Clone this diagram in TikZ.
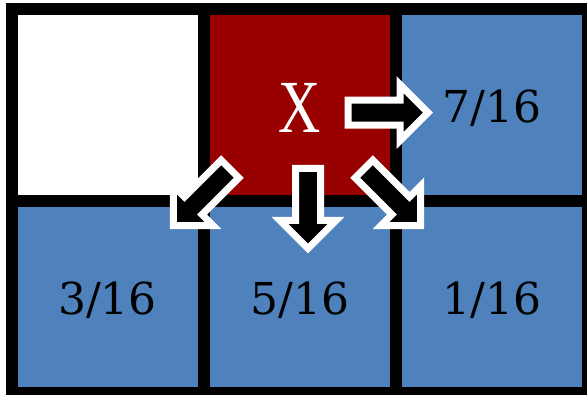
\documentclass[tikz,border=0pt]{standalone}
\usepackage{graphicx}
\usepackage{fontspec}
\newfontfamily\numfont{DejaVu Serif}
\newfontfamily\xfont{Liberation Serif}
\definecolor{cellred}{HTML}{990000}
\definecolor{cellblue}{HTML}{4F81BD}
\tikzset{
  cell/.style={draw=black, line width=12pt, minimum width=192pt, minimum height=192pt, inner sep=0pt, outer sep=0pt, shape=rectangle},
  numlbl/.style={anchor=base, inner sep=0pt, text=black, font=\numfont\fontsize{44}{50}\selectfont},
  xlbl/.style={anchor=base, inner sep=0pt, text=white, font=\xfont\fontsize{75}{80}\selectfont},
  barr/.pic={\draw[fill=black, draw=white, line width=7pt, line join=miter]
      (0,12.5) -- (52,12.5) -- (52,28) -- (80,0) -- (52,-28) -- (52,-12.5) -- (0,-12.5) -- cycle;}
}
\begin{document}
\begin{tikzpicture}[x=1pt,y=1pt]
\useasboundingbox (0,0) rectangle (587,395);
% cells
\node[cell, fill=white]    (c11) at (108,290) {};
\node[cell, fill=cellred]  (c12) at (300,290) {};
\node[cell, fill=cellblue] (c13) at (492,290) {};
\node[cell, fill=cellblue] (c21) at (108,98) {};
\node[cell, fill=cellblue] (c22) at (300,98) {};
\node[cell, fill=cellblue] (c23) at (492,98) {};
% labels
\node[xlbl]   (lx)  at (300,262.3) {\scalebox{0.78}[1]{X}};
\node[numlbl] (l13) at (492,272.3) {7/16};
\node[numlbl] (l21) at (107.5,80.7) {3/16};
\node[numlbl] (l22) at (300,80.7) {5/16};
\node[numlbl] (l23) at (492,80.7) {1/16};
% arrows
\coordinate (aR)  at (348,282.3);
\coordinate (aD)  at (308,226.5);
\coordinate (aDR) at (364,226);
\coordinate (aDL) at (230,226);
\pic[rotate=0]    at (aR)  {barr};
\pic[rotate=-90]  at (aD)  {barr};
\pic[rotate=-45]  at (aDR) {barr};
\pic[rotate=-135] at (aDL) {barr};
\end{tikzpicture}
\end{document}
